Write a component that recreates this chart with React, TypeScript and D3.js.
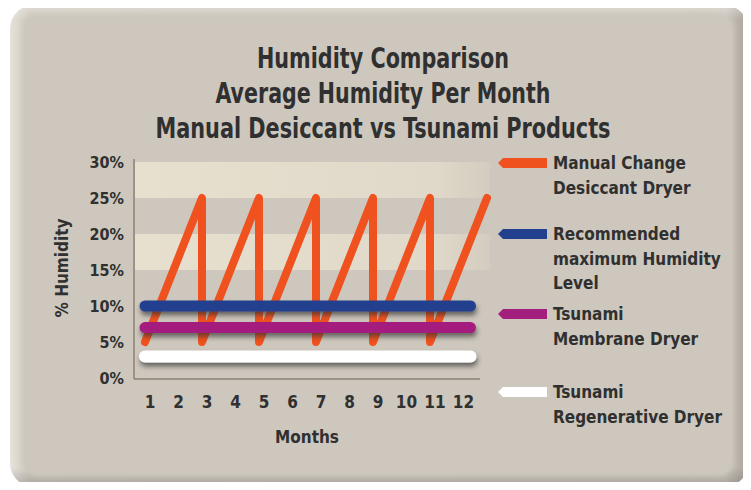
import React from "react";
import * as d3 from "d3";

// ---- data ----
const monthLabels = ["1", "2", "3", "4", "5", "6", "7", "8", "9", "10", "11", "12"];
const yTicks = [0, 5, 10, 15, 20, 25, 30];
const manualMonths = [1, 3, 3, 5, 5, 7, 7, 9, 9, 11, 11, 13];
const manualValues = [5, 25, 5, 25, 5, 25, 5, 25, 5, 25, 5, 25];
const recommendedValues = [10, 10, 10, 10, 10, 10, 10, 10, 10, 10, 10, 10];
const membraneValues = [7, 7, 7, 7, 7, 7, 7, 7, 7, 7, 7, 7];
const regenerativeValues = [3, 3, 3, 3, 3, 3, 3, 3, 3, 3, 3, 3];
const titleLines = [
  "Humidity Comparison",
  "Average Humidity Per Month",
  "Manual Desiccant vs Tsunami Products",
];
const legendItems = [
  { lines: ["Manual Change", "Desiccant Dryer"], color: "#f0521f" },
  { lines: ["Recommended", "maximum Humidity", "Level"], color: "#22408e" },
  { lines: ["Tsunami", "Membrane Dryer"], color: "#a41e7e" },
  { lines: ["Tsunami", "Regenerative Dryer"], color: "#ffffff" },
];

const FONT = "'DejaVu Sans Condensed', 'Liberation Sans Narrow', 'Roboto Condensed', sans-serif";
const TEXT = "#303030";

export default function App() {
  const W = 751, H = 490;
  const x = d3.scaleLinear().domain([1, 13]).range([145, 487]);
  const y = d3.scaleLinear().domain([0, 30]).range([378, 162]);
  const line = d3
    .line<[number, number]>()
    .x((d) => x(d[0]))
    .y((d) => y(d[1]));

  const manualPts: [number, number][] = manualMonths.map((m, i) => [m, manualValues[i]]);
  const flat = (vals: number[]) => {
    const pts: [number, number][] = vals.map((v, i) => [i + 1, v]);
    return line(pts) + " h 12";
  };

  const bands = [25, 15];
  const legendY = [163, 234, 314, 392];
  const titleWidths = [252, 335, 455];

  return (
    <div style={{ margin: -8 }}>
      <svg width={W} height={H} style={{ display: "block", background: "#fff" }}>
        <defs>
          <linearGradient id="panelGrad" x1="0" x2="1" y1="0" y2="0">
            <stop offset="0" stopColor="#e6e2db" />
            <stop offset="0.025" stopColor="#cfc9bf" />
            <stop offset="0.97" stopColor="#cbc5bb" />
            <stop offset="1" stopColor="#a8a298" />
          </linearGradient>
          <linearGradient id="panelGradV" x1="0" x2="0" y1="0" y2="1">
            <stop offset="0" stopColor="#ffffff" stopOpacity="0.35" />
            <stop offset="0.03" stopColor="#ffffff" stopOpacity="0" />
            <stop offset="0.96" stopColor="#000000" stopOpacity="0" />
            <stop offset="1" stopColor="#000000" stopOpacity="0.18" />
          </linearGradient>
          <linearGradient id="bandGrad" x1="0" x2="1" y1="0" y2="0">
            <stop offset="0" stopColor="#e7e0cf" />
            <stop offset="0.85" stopColor="#e0d9c9" />
            <stop offset="1" stopColor="#d3ccc0" />
          </linearGradient>
          <filter id="shadow" filterUnits="userSpaceOnUse" x="120" y="150" width="380" height="240">
            <feDropShadow dx="1" dy="4" stdDeviation="2.5" floodColor="#2e2e2e" floodOpacity="0.65" />
          </filter>
          <filter id="soft" x="-5%" y="-5%" width="110%" height="110%">
            <feGaussianBlur stdDeviation="2" />
          </filter>
        </defs>

        {/* panel */}
        <rect x={10} y={5} width={738} height={482} rx={24} fill="url(#panelGrad)" />
        <rect x={10} y={5} width={738} height={482} rx={24} fill="url(#panelGradV)" />
        <rect x={22} y={14} width={712} height={462} rx={16} fill="#cdc7bd" filter="url(#soft)" />

        {/* title */}
        {titleLines.map((t, i) => (
          <text
            key={i}
            x={383}
            y={68 + i * 35}
            textAnchor="middle"
            fontFamily={FONT}
            fontWeight="bold"
            fontSize={28}
            textLength={titleWidths[i]}
            lengthAdjust="spacingAndGlyphs"
            fill={TEXT}
          >
            {t}
          </text>
        ))}

        {/* bands */}
        {bands.map((b) => (
          <rect key={b} x={135} y={y(b + 5)} width={355} height={y(b) - y(b + 5)} fill="url(#bandGrad)" />
        ))}

        {/* axes */}
        <line x1={134} x2={134} y1={159} y2={y(0) + 1} stroke="#8d8172" strokeWidth={1.5} />
        <line x1={134} x2={480} y1={y(0) + 1} y2={y(0) + 1} stroke="#8d8172" strokeWidth={1.5} />

        {yTicks.map((t) => (
          <text
            key={t}
            x={124}
            y={y(t)}
            dy="0.36em"
            textAnchor="end"
            fontFamily={FONT}
            fontWeight="bold"
            fontSize={16}
            fill={TEXT}
          >
            {t + "%"}
          </text>
        ))}
        {monthLabels.map((m, i) => (
          <text
            key={m}
            x={x(i + 1)}
            dx={5}
            y={408}
            textAnchor="middle"
            fontFamily={FONT}
            fontWeight="bold"
            fontSize={17}
            fill={TEXT}
          >
            {m}
          </text>
        ))}
        <text x={307} y={443} textAnchor="middle" fontFamily={FONT} fontWeight="bold" fontSize={17} fill={TEXT}>
          Months
        </text>
        <text
          transform={`translate(68,268) rotate(-90)`}
          textAnchor="middle"
          fontFamily={FONT}
          fontWeight="bold"
          fontSize={17}
          fill={TEXT}
        >
          % Humidity
        </text>

        {/* series */}
        <path
          d={line(manualPts) || ""}
          fill="none"
          stroke={legendItems[0].color}
          strokeWidth={8}
          strokeLinejoin="round"
          strokeLinecap="round"
        />
        <path d={flat(regenerativeValues)} fill="none" stroke={legendItems[3].color} strokeWidth={12} strokeLinecap="round" filter="url(#shadow)" />
        <path d={flat(membraneValues)} fill="none" stroke={legendItems[2].color} strokeWidth={11} strokeLinecap="round" filter="url(#shadow)" />
        <path d={flat(recommendedValues)} fill="none" stroke={legendItems[1].color} strokeWidth={11} strokeLinecap="round" filter="url(#shadow)" />

        {/* legend */}
        {legendItems.map((it, i) => {
          const ly = legendY[i];
          return (
            <g key={i}>
              <path
                d={`M498,${ly} L503,${ly - 5} L547,${ly - 5} L547,${ly + 5} L503,${ly + 5} Z`}
                fill={it.color}
              />
              {it.lines.map((l, j) => (
                <text
                  key={j}
                  x={553}
                  y={ly + 6 + j * 24.5}
                  fontFamily={FONT}
                  fontWeight="bold"
                  fontSize={17}
                  fill={TEXT}
                >
                  {l}
                </text>
              ))}
            </g>
          );
        })}
      </svg>
    </div>
  );
}
